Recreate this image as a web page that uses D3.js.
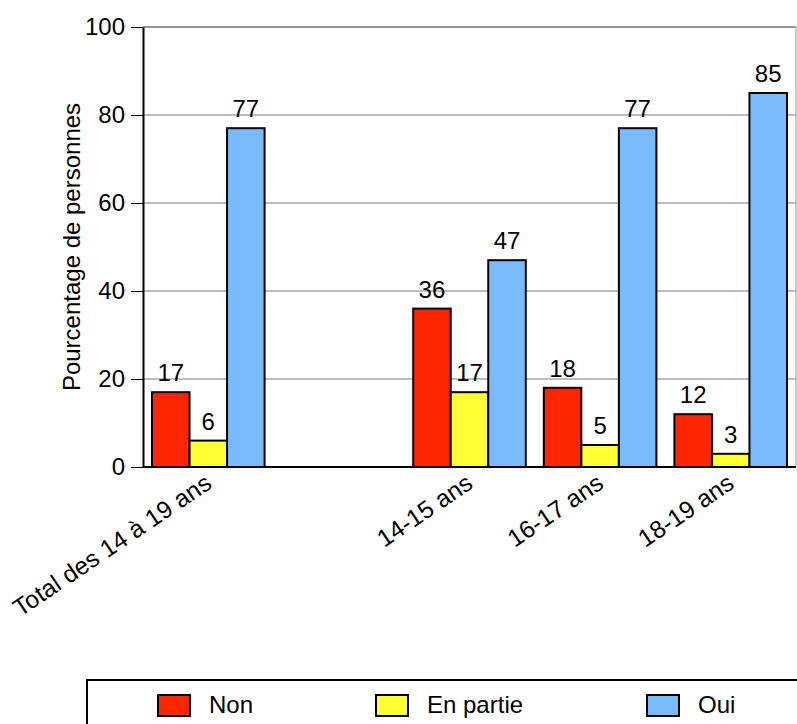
<!DOCTYPE html>
<html>
<head>
<meta charset="utf-8">
<script src="https://cdn.jsdelivr.net/npm/d3@7"></script>
<style>
  body { margin: 0; background: #fff; }
  svg { display: block; font-family: "Liberation Sans", Arial, Helvetica, sans-serif; }
</style>
</head>
<body>
<svg id="chart" width="797" height="724"></svg>
<script>
// categories (the empty one is the gap between the total and the age groups)
const categories = ["Total des 14 à 19 ans", "", "14-15 ans", "16-17 ans", "18-19 ans"];
const seriesNames = ["Non", "En partie", "Oui"];
const nonValues = [17, null, 36, 18, 12];
const enPartieValues = [6, null, 17, 5, 3];
const ouiValues = [77, null, 47, 77, 85];
const yTicks = [0, 20, 40, 60, 80, 100];
const colors = ["#ff2600", "#ffff33", "#78bcff"];

const series = [nonValues, enPartieValues, ouiValues];

const svg = d3.select("#chart");
const plot = { left: 143, right: 796, top: 27, bottom: 467 };

const x = d3.scaleBand().domain(d3.range(categories.length)).range([plot.left, plot.right]).padding(0);
const x1 = d3.scaleBand().domain(d3.range(seriesNames.length))
  .range([0, x.bandwidth()]).paddingOuter(0.24).paddingInner(0);
const y = d3.scaleLinear().domain([0, 100]).range([plot.bottom, plot.top]);

// gridlines
svg.append("g")
  .selectAll("line")
  .data(yTicks.filter(d => d > 0))
  .join("line")
  .attr("x1", plot.left).attr("x2", plot.right)
  .attr("y1", d => y(d)).attr("y2", d => y(d))
  .attr("stroke", d => d === 100 ? "#333" : "#7a7a7a")
  .attr("stroke-width", 1);

// right border
svg.append("line")
  .attr("x1", plot.right).attr("x2", plot.right)
  .attr("y1", y(100)).attr("y2", y(0))
  .attr("stroke", "#999").attr("stroke-width", 1);

// bars
const groups = svg.append("g")
  .selectAll("g")
  .data(categories.map((c, i) => i))
  .join("g")
  .attr("transform", i => `translate(${x(i)},0)`);

groups.selectAll("rect")
  .data(i => series.map((s, k) => ({ k, v: s[i] })).filter(d => d.v != null))
  .join("rect")
  .attr("x", d => x1(d.k))
  .attr("width", x1.bandwidth())
  .attr("y", d => y(d.v))
  .attr("height", d => y(0) - y(d.v))
  .attr("fill", d => colors[d.k])
  .attr("stroke", "#000")
  .attr("stroke-width", 2);

groups.selectAll("text")
  .data(i => series.map((s, k) => ({ k, v: s[i] })).filter(d => d.v != null))
  .join("text")
  .attr("x", d => x1(d.k) + x1.bandwidth() / 2)
  .attr("y", d => y(d.v) - 11)
  .attr("text-anchor", "middle")
  .attr("font-size", 24)
  .text(d => d.v);

// y axis
const yAxis = svg.append("g")
  .attr("transform", `translate(${plot.left},0)`)
  .call(d3.axisLeft(y).tickValues(yTicks).tickSize(12).tickSizeOuter(0).tickPadding(6));
yAxis.select(".domain").attr("stroke", "#000").attr("stroke-width", 2);
yAxis.selectAll(".tick line").attr("stroke", "#000").attr("stroke-width", 1);
yAxis.selectAll(".tick text").attr("font-size", 24).attr("font-family", null).attr("fill", "#000");

// x baseline
svg.append("line")
  .attr("x1", plot.left).attr("x2", plot.right)
  .attr("y1", y(0)).attr("y2", y(0))
  .attr("stroke", "#000").attr("stroke-width", 2);

// category labels
svg.append("g")
  .selectAll("text")
  .data(categories.map((c, i) => ({ c, i })).filter(d => d.c))
  .join("text")
  .attr("transform", d => `translate(${x(d.i) + x.bandwidth() / 2 + 5},${plot.bottom + 20}) rotate(-34)`)
  .attr("text-anchor", "end")
  .attr("font-size", 24.5)
  .text(d => d.c);

// y title
svg.append("text")
  .attr("transform", `translate(80,${(plot.top + plot.bottom) / 2}) rotate(-90)`)
  .attr("text-anchor", "middle")
  .attr("font-size", 24)
  .text("Pourcentage de personnes");

// legend
const legend = svg.append("g");
legend.append("rect")
  .attr("x", 87).attr("y", 680).attr("width", 740).attr("height", 80)
  .attr("fill", "none").attr("stroke", "#000").attr("stroke-width", 2);
const legendX = [158, 376, 647];
const items = legend.selectAll("g.item")
  .data(seriesNames)
  .join("g")
  .attr("class", "item")
  .attr("transform", (d, i) => `translate(${legendX[i]},695)`);
items.append("rect")
  .attr("width", 32).attr("height", 21)
  .attr("fill", (d, i) => colors[i])
  .attr("stroke", "#000").attr("stroke-width", 2);
items.append("text")
  .attr("x", 51).attr("y", 18)
  .attr("font-size", 24)
  .text(d => d);
</script>
</body>
</html>
